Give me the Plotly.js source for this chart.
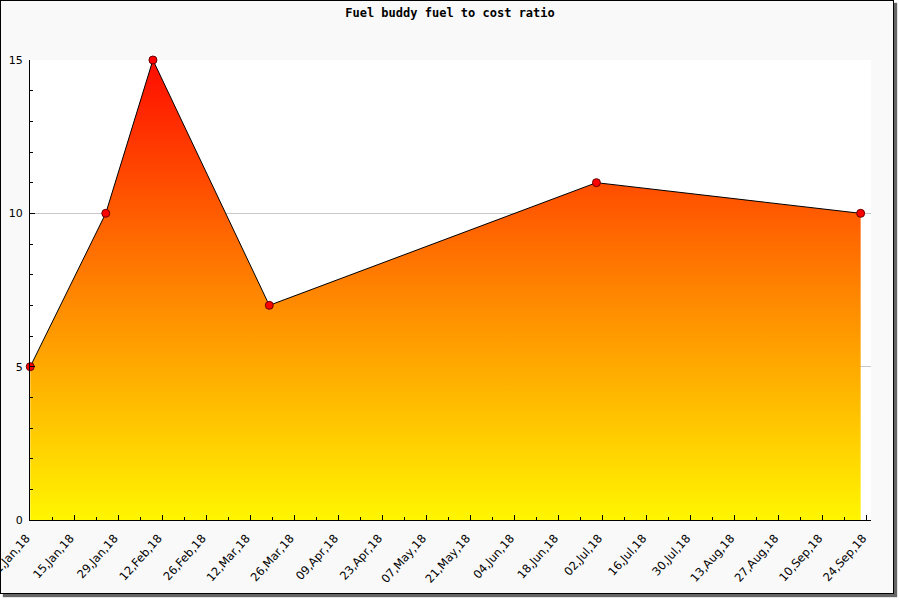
<!DOCTYPE html>
<html>
<head>
<meta charset="utf-8">
<script src="https://cdn.plot.ly/plotly-3.0.1.min.js"></script>
<style>
  html, body { margin:0; padding:0; background:#ffffff; }
  #wrap { position:relative; width:900px; height:600px; overflow:hidden; }
  #frame { position:absolute; left:0; top:0; width:894px; height:594px; box-sizing:border-box;
           border:1px solid #000; background:#f9f9f9; box-shadow:3px 3px 1px #666; }
  #chart { position:absolute; left:0; top:0; width:900px; height:600px; }
</style>
</head>
<body>
<div id="wrap">
  <div id="frame"></div>
  <div id="chart"></div>
</div>
<script>
const chartTitle = 'Fuel buddy fuel to cost ratio';
const dates = ['2018-01-01', '2018-01-25', '2018-02-09', '2018-03-18', '2018-06-30', '2018-09-22'];
const ratios = [5, 10, 15, 7, 11, 10];
const yTicks = [0, 5, 10, 15];

const trace = {
  x: dates,
  y: ratios,
  type: 'scatter',
  mode: 'lines+markers',
  fill: 'tozeroy',
  fillgradient: {
    type: 'vertical',
    start: 0,
    stop: 15,
    colorscale: [[0, '#fff600'], [0.5, '#ff8400'], [1, '#ff0c00']]
  },
  line: { color: '#000000', width: 1 },
  marker: { symbol: 'circle', size: 8, color: '#ff0000', line: { color: '#6a0000', width: 1 } },
  cliponaxis: false,
  hoverinfo: 'x+y'
};

const layout = {
  width: 900,
  height: 600,
  paper_bgcolor: 'rgba(0,0,0,0)',
  plot_bgcolor: '#ffffff',
  margin: { l: 30, r: 29, t: 60, b: 80 },
  showlegend: false,
  title: {
    text: '<b>' + chartTitle + '</b>',
    font: { family: 'DejaVu Sans Mono', size: 12, color: '#000' },
    x: 0.5, xanchor: 'center',
    yref: 'container', y: 1 - 13 / 600, yanchor: 'middle'
  },
  xaxis: {
    type: 'date',
    range: ['2017-12-31 22:00', '2018-09-25 07:00'],
    tickmode: 'linear',
    tick0: '2018-01-01',
    dtick: 14 * 86400000,
    tickformat: '%d,%b,%y',
    tickangle: -48,
    ticklabeloverflow: 'allow',
    ticklabelstandoff: 6,
    ticklabelshift: -4,
    ticks: 'inside',
    ticklen: 5,
    tickcolor: '#000',
    minor: { dtick: 7 * 86400000, tick0: '2018-01-01', ticks: 'inside', ticklen: 3, tickcolor: '#000', showgrid: false },
    showline: true,
    linecolor: '#000',
    linewidth: 1,
    showgrid: false,
    zeroline: false,
    tickfont: { family: 'DejaVu Sans', size: 11.5, color: '#000' }
  },
  yaxis: {
    range: [0, 15],
    tickvals: yTicks,
    ticktext: yTicks.map(String),
    ticks: 'inside',
    ticklen: 5,
    tickcolor: '#000',
    ticklabelstandoff: 4,
    minor: { dtick: 1, ticks: 'inside', ticklen: 3, tickcolor: '#000', showgrid: false },
    showline: true,
    linecolor: '#000',
    linewidth: 1,
    showgrid: true,
    gridcolor: '#c8c8c8',
    gridwidth: 1,
    zeroline: false,
    tickfont: { family: 'DejaVu Sans', size: 11, color: '#000' }
  }
};

Plotly.newPlot('chart', [trace], layout, { displayModeBar: false, staticPlot: true });
</script>
</body>
</html>
